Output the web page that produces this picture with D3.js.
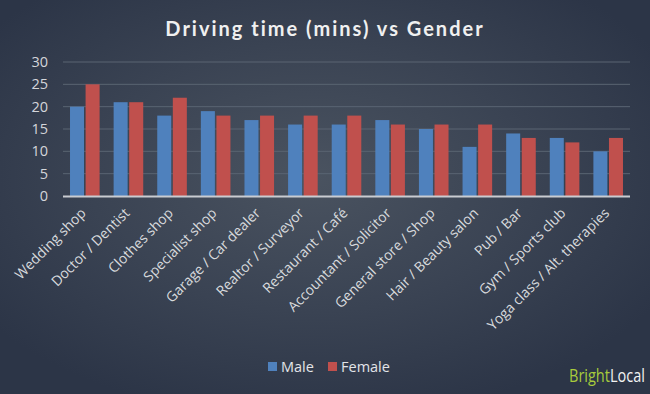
<!DOCTYPE html>
<html>
<head>
<meta charset="utf-8">
<script src="https://cdn.jsdelivr.net/npm/d3@7"></script>
<style>
  body { margin: 0; background: #2f3a4c; }
  svg { display: block; }
</style>
</head>
<body>
<svg id="chart" width="650" height="394"></svg>
<script>
// chart data
var categories = ["Wedding shop", "Doctor / Dentist", "Clothes shop", "Specialist shop",
  "Garage / Car dealer", "Realtor / Surveyor", "Restaurant / Café", "Accountant / Solicitor",
  "General store / Shop", "Hair / Beauty salon", "Pub / Bar", "Gym / Sports club",
  "Yoga class / Alt. therapies"];
var male = [20, 21, 18, 19, 17, 16, 16, 17, 15, 11, 14, 13, 10];
var female = [25, 21, 22, 18, 18, 18, 18, 16, 16, 16, 13, 12, 13];
var yTicks = [0, 5, 10, 15, 20, 25, 30];
var seriesNames = ["Male", "Female"];
var seriesColors = ["#4f81bd", "#c0504d"];

var svg = d3.select("#chart");
var W = 650, H = 394;

// background
var defs = svg.append("defs");
var grad = defs.append("radialGradient").attr("id", "bg")
  .attr("cx", "48%").attr("cy", "45%").attr("r", "62%");
grad.append("stop").attr("offset", "0%").attr("stop-color", "#4a5360");
grad.append("stop").attr("offset", "55%").attr("stop-color", "#3a4353");
grad.append("stop").attr("offset", "100%").attr("stop-color", "#2c3547");
svg.append("rect").attr("width", W).attr("height", H).attr("fill", "url(#bg)");

var plotLeft = 63, plotRight = 630, plotTop = 62, plotBottom = 196;

var x = d3.scaleBand().domain(categories).range([plotLeft, plotRight]).paddingInner(0.25).paddingOuter(0.125);
var xs = d3.scaleBand().domain(seriesNames).range([0, x.bandwidth()]).padding(0.1);
var y = d3.scaleLinear().domain([0, 30]).range([plotBottom, plotTop]);

// title
svg.append("text")
  .attr("x", 325).attr("y", 36)
  .attr("text-anchor", "middle")
  .attr("font-family", "Lato, 'Open Sans', sans-serif")
  .attr("font-weight", "bold")
  .attr("font-size", 20)
  .attr("letter-spacing", 2)
  .attr("fill", "#f0f0f0")
  .text("Driving time (mins) vs Gender");

// gridlines
svg.append("g").selectAll("line").data(yTicks.filter(function(d){ return d > 0; }))
  .enter().append("line")
  .attr("x1", plotLeft).attr("x2", plotRight)
  .attr("y1", function(d){ return y(d); }).attr("y2", function(d){ return y(d); })
  .attr("stroke", "#5a6472").attr("stroke-width", 1);

// y axis labels
var yAxis = d3.axisLeft(y).tickValues(yTicks).tickSize(0).tickPadding(0);
var yg = svg.append("g").attr("transform", "translate(48,0)").call(yAxis);
yg.select(".domain").remove();
yg.selectAll("text")
  .attr("font-family", "'Open Sans', sans-serif")
  .attr("font-size", 14.5)
  .attr("fill", "#d4d6da");

// bars
var groups = svg.append("g").selectAll("g").data(categories).enter().append("g")
  .attr("transform", function(d){ return "translate(" + x(d) + ",0)"; });
groups.selectAll("rect")
  .data(function(d, i){ return [{s: "Male", v: male[i]}, {s: "Female", v: female[i]}]; })
  .enter().append("rect")
  .attr("x", function(d){ return xs(d.s); })
  .attr("width", xs.bandwidth())
  .attr("y", function(d){ return y(d.v); })
  .attr("height", function(d){ return plotBottom - y(d.v); })
  .attr("fill", function(d, i){ return seriesColors[i]; });

// baseline
svg.append("line").attr("x1", plotLeft).attr("x2", plotRight)
  .attr("y1", plotBottom + 0.5).attr("y2", plotBottom + 0.5)
  .attr("stroke", "#c9ccd1").attr("stroke-width", 2);

// x labels
var xAxis = d3.axisBottom(x).tickSize(0).tickPadding(0);
var xg = svg.append("g").attr("transform", "translate(0," + plotBottom + ")").call(xAxis);
xg.select(".domain").remove();
xg.selectAll("text")
  .attr("font-family", "'Open Sans', sans-serif")
  .attr("font-size", 14)
  .attr("fill", "#d8dadd")
  .attr("text-anchor", "end")
  .attr("dy", 0)
  .attr("transform", "translate(2,18) rotate(-45)");

// legend
var legend = svg.append("g").attr("transform", "translate(268,367)");
var lx = [0, 60];
seriesNames.forEach(function(n, i){
  legend.append("rect").attr("x", lx[i]).attr("y", -5).attr("width", 9).attr("height", 9)
    .attr("fill", seriesColors[i]);
  legend.append("text").attr("x", lx[i] + 13).attr("y", 5)
    .attr("font-family", "'Open Sans', sans-serif").attr("font-size", 14.5)
    .attr("fill", "#e2e4e8").text(n);
});

// brand, squeezed horizontally to look like a condensed face
var brandG = svg.append("g");
var brand = brandG.append("text").attr("x", 0).attr("y", 0)
  .attr("font-family", "'Open Sans', sans-serif").attr("font-size", 19);
brand.append("tspan").attr("fill", "#a8cc3c").text("Bright");
brand.append("tspan").attr("fill", "#f2f2f2").text("Local");
var bw = brand.node().getComputedTextLength();
brandG.attr("transform", "translate(569,382) scale(" + (76 / bw) + ",1)");
</script>
</body>
</html>
